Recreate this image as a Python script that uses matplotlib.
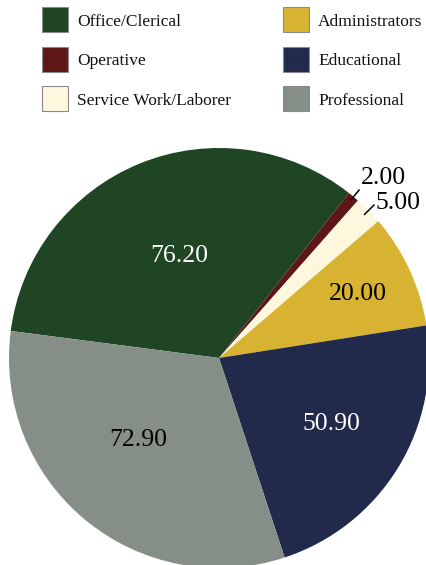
import numpy as np
import matplotlib
matplotlib.use("Agg")
import matplotlib.pyplot as plt
from matplotlib.patches import Rectangle

plt.rcParams['font.family'] = ['Liberation Serif', 'DejaVu Serif']

categories = ["Office/Clerical", "Operative", "Service Work/Laborer",
              "Administrators", "Educational", "Professional"]
values = [76.20, 2.00, 5.00, 20.00, 50.90, 72.90]
value_labels = ["76.20", "2.00", "5.00", "20.00", "50.90", "72.90"]

colors = ["#1f4524", "#5e1717", "#fdf7dd", "#d8b332", "#212a4a", "#858f88"]
text_colors = ["white", "black", "black", "black", "white", "black"]
# style: label radial placement (fraction of radius), angle nudge (deg)
inside_r = [0.52, None, None, 0.73, 0.62, 0.55]
inside_dang = [-1.0, 0, 0, 0, 1.0, -5.0]
outside = {1: (0.98, 1.045, (1, 5)), 2: (0.97, 1.04, (1, -4))}

W, H = 427, 565
fig = plt.figure(figsize=(W / 100, H / 100), dpi=100)
ax = fig.add_axes([0, 0, 1, 1])
cx, cy, R = 219, H - 358, 210
wedges, _ = ax.pie(values, colors=colors, startangle=172.6, counterclock=False,
                   center=(cx, cy), radius=R, wedgeprops=dict(linewidth=0))
ax.set_xlim(0, W)
ax.set_ylim(0, H)
ax.set_aspect('equal')
ax.axis('off')

for i, w in enumerate(wedges):
    mid = np.deg2rad((w.theta1 + w.theta2) / 2)
    if inside_r[i] is not None:
        a = mid + np.deg2rad(inside_dang[i])
        ax.text(cx + inside_r[i] * R * np.cos(a), cy + inside_r[i] * R * np.sin(a),
                value_labels[i], ha='center', va='center', fontsize=18.5,
                color=text_colors[i])
    else:
        r0, r1, off = outside[i]
        x0, y0 = cx + r0 * R * np.cos(mid), cy + r0 * R * np.sin(mid)
        x1, y1 = cx + r1 * R * np.cos(mid), cy + r1 * R * np.sin(mid)
        ax.plot([x0, x1], [y0, y1], color='black', lw=1.1, solid_capstyle='butt')
        ax.annotate(value_labels[i], xy=(x1, y1), xytext=off,
                    textcoords='offset pixels', ha='left', va='baseline',
                    fontsize=18.5, color='black')

# legend (2 columns x 3 rows), laid out in pixel coordinates
col_x = [42, 283]
row_y = [19.5, 59, 98.5]
sw, sh = 26, 25
for i, (lab, c) in enumerate(zip(categories, colors)):
    col, row = divmod(i, 3)
    x = col_x[col]
    yc = H - row_y[row]
    ax.add_patch(Rectangle((x, yc - sh / 2), sw, sh, facecolor=c,
                           edgecolor='#8a8a8a', linewidth=0.8, clip_on=False))
    ax.text(x + sw + 9, yc, lab, ha='left', va='center_baseline',
            fontsize=12.5, color='#111111')

fig.savefig("out.png", dpi=100)
